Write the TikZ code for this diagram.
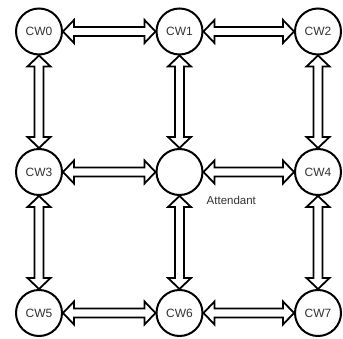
\documentclass[tikz,border=0pt]{standalone}
\usepackage{fontspec}
\setmainfont{Liberation Sans}
\usetikzlibrary{calc}
\tikzset{
  cw/.style={circle,draw=black,line width=2pt,minimum size=46pt,inner sep=0pt,fill=white,text=black!80,font=\fontsize{12}{14}\selectfont},
  arr/.style={draw=black,line width=1.8pt,fill=white,line join=miter}
}
\newcommand\harr[2]{\draw[arr] (#1.east) -- ++(11,11.5) -- ++(0,-7) -- ($(#2.west)+(-11,4.5)$) -- ++(0,7) -- (#2.west) -- ++(-11,-11.5) -- ++(0,7) -- ($(#1.east)+(11,-4.5)$) -- ++(0,-7) -- cycle;}
\newcommand\varr[2]{\draw[arr] (#1.south) -- ++(11.5,11) -- ++(-7,0) -- ($(#2.north)+(4.5,-11)$) -- ++(7,0) -- (#2.north) -- ++(-11.5,-11) -- ++(7,0) -- ($(#1.south)+(-4.5,11)$) -- ++(-7,0) -- cycle;}
\begin{document}
\begin{tikzpicture}[x=1pt,y=-1pt]
\useasboundingbox (0,0) rectangle (343,339);
\node[cw] (cw0) at (39,31.5) {CW0};
\node[cw] (cw1) at (179.5,31.5) {CW1};
\node[cw] (cw2) at (318,31.5) {CW2};
\node[cw] (cw3) at (39,172) {CW3};
\node[cw] (att) at (179.5,172) {};
\node[cw] (cw4) at (318,172) {CW4};
\node[cw] (cw5) at (39,313) {CW5};
\node[cw] (cw6) at (179.5,313) {CW6};
\node[cw] (cw7) at (318,313) {CW7};
\node[anchor=base west,text=black!80,font=\fontsize{11.5}{13}\selectfont,inner sep=0pt] (lbl) at (206.5,205) {Attendant};
\harr{cw0}{cw1}\harr{cw1}{cw2}
\harr{cw3}{att}\harr{att}{cw4}
\harr{cw5}{cw6}\harr{cw6}{cw7}
\varr{cw0}{cw3}\varr{cw3}{cw5}
\varr{cw1}{att}\varr{att}{cw6}
\varr{cw2}{cw4}\varr{cw4}{cw7}
\end{tikzpicture}
\end{document}
